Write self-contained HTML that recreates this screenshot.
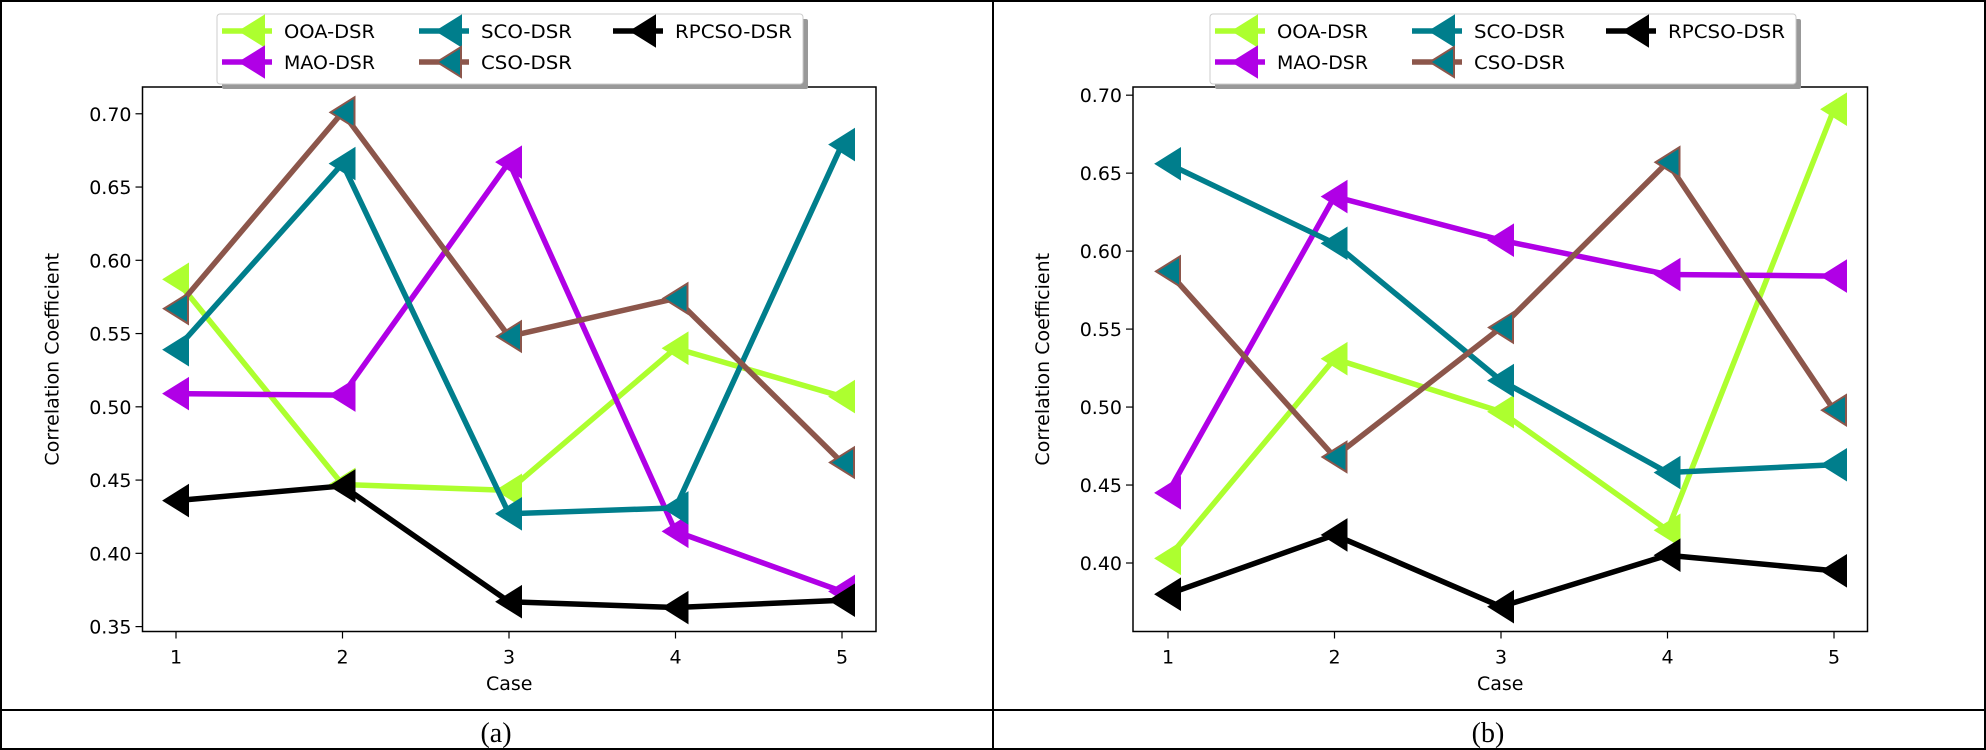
<!DOCTYPE html>
<html><head><meta charset="utf-8"><style>
html,body{margin:0;padding:0;background:#fff;}
svg{display:block;}
text{font-family:"DejaVu Sans","Liberation Sans",sans-serif;fill:#000;}
</style></head><body>
<svg id="s" width="1986" height="750" xmlns="http://www.w3.org/2000/svg">
<rect x="0" y="0" width="1986" height="750" fill="#fff"/>
<g stroke="#000" stroke-width="2" fill="none">
<line x1="1" y1="1" x2="1" y2="749"/>
<line x1="1985" y1="1" x2="1985" y2="749"/>
<line x1="993" y1="1" x2="993" y2="749"/>
<line x1="0" y1="1" x2="1986" y2="1"/>
<line x1="0" y1="710" x2="1986" y2="710"/>
<line x1="0" y1="749" x2="1986" y2="749"/>
</g>
<text x="496" y="742" style="font-family:'Liberation Serif',serif" font-size="28" text-anchor="middle">(a)</text>
<text x="1488" y="742" style="font-family:'Liberation Serif',serif" font-size="28" text-anchor="middle">(b)</text>
</svg>
<script>
const NS="http://www.w3.org/2000/svg",S=document.getElementById('s');
function el(t,a,txt){const e=document.createElementNS(NS,t);for(const k in a)e.setAttribute(k,a[k]);if(txt!==undefined)e.textContent=txt;S.appendChild(e);return e;}
const cols={OOA:'#adff2f',MAO:'#b000e6',SCO:'#007e8c',CSO:'#8c564b',RP:'#000'};
function tri(x,y,fill,stroke){el('polygon',{points:`${x-12},${y} ${x+12},${y-15} ${x+12},${y+15}`,fill:fill,stroke:stroke,'stroke-width':2});}
function panel(o){
  const {L,R,T,B,x1,dx,y0,v0,pp,ticks,data,off}=o;
  const X=i=>x1+i*dx, Y=v=>y0-(v-v0)/0.05*pp;
  el('rect',{x:L,y:T,width:R-L,height:B-T,fill:'none',stroke:'#000','stroke-width':1.5});
  for(let i=0;i<5;i++){el('line',{x1:X(i),y1:B,x2:X(i),y2:B+7,stroke:'#000','stroke-width':1.2});el('text',{x:X(i),y:B+32,'font-size':19,'text-anchor':'middle'},String(i+1));}
  ticks.forEach(v=>{el('line',{x1:L-7,y1:Y(v),x2:L,y2:Y(v),stroke:'#000','stroke-width':1.2});el('text',{x:L-11,y:Y(v)+7,'font-size':19,'text-anchor':'end'},v.toFixed(2));});
  el('text',{x:(L+R)/2,y:690,'font-size':19,'text-anchor':'middle'},'Case');
  el('text',{x:0,y:0,'font-size':19,'text-anchor':'middle',transform:`translate(${L-84},${(T+B)/2}) rotate(-90)`},'Correlation Coefficient');
  const order=['OOA','MAO','SCO','CSO','RP'];
  order.forEach(k=>{
    const pts=data[k].map((v,i)=>`${X(i)},${Y(v)}`).join(' ');
    el('polyline',{points:pts,fill:'none',stroke:cols[k],'stroke-width':5.5,'stroke-linejoin':'round'});
    data[k].forEach((v,i)=>{ if(k==='CSO')tri(X(i),Y(v),cols.SCO,cols.CSO); else tri(X(i),Y(v),cols[k],cols[k]);});
  });
  const lx=off+217, lw=586;
  el('rect',{x:lx+5,y:19,width:lw,height:70,fill:'#999',rx:2});
  el('rect',{x:lx,y:14,width:lw,height:70,fill:'#fff',stroke:'#ccc','stroke-width':1,rx:3});
  const items=[['OOA','OOA-DSR',0,0],['MAO','MAO-DSR',0,1],['SCO','SCO-DSR',1,0],['CSO','CSO-DSR',1,1],['RP','RPCSO-DSR',2,0]];
  const cx=[off+222,off+419,off+613];
  items.forEach(([k,n,c,r])=>{
    const y=r?62:31, x=cx[c];
    el('line',{x1:x,y1:y,x2:x+50,y2:y,stroke:cols[k],'stroke-width':5.5});
    if(k==='CSO')tri(x+30,y,cols.SCO,cols.CSO);else tri(x+30,y,cols[k],cols[k]);
    el('text',{x:x+62,y:y+7,'font-size':19,textLength:n.length*13,lengthAdjust:'spacingAndGlyphs'},n);
  });
}
panel({L:142.5,R:876,T:87,B:631.5,x1:176,dx:166.5,y0:626.6,v0:0.35,pp:73.26,off:0,
  ticks:[0.35,0.40,0.45,0.50,0.55,0.60,0.65,0.70],
  data:{OOA:[0.587,0.447,0.443,0.540,0.507],MAO:[0.509,0.508,0.667,0.415,0.374],SCO:[0.539,0.666,0.427,0.431,0.679],CSO:[0.567,0.701,0.548,0.574,0.462],RP:[0.436,0.446,0.367,0.363,0.368]}});
panel({L:1133,R:1867.5,T:87,B:631.5,x1:1168,dx:166.5,y0:563,v0:0.40,pp:77.97,off:993,
  ticks:[0.40,0.45,0.50,0.55,0.60,0.65,0.70],
  data:{OOA:[0.403,0.531,0.497,0.421,0.691],MAO:[0.445,0.635,0.607,0.585,0.584],SCO:[0.656,0.605,0.517,0.458,0.463],CSO:[0.587,0.468,0.551,0.657,0.498],RP:[0.380,0.418,0.372,0.405,0.395]}});
</script>
</body></html>
